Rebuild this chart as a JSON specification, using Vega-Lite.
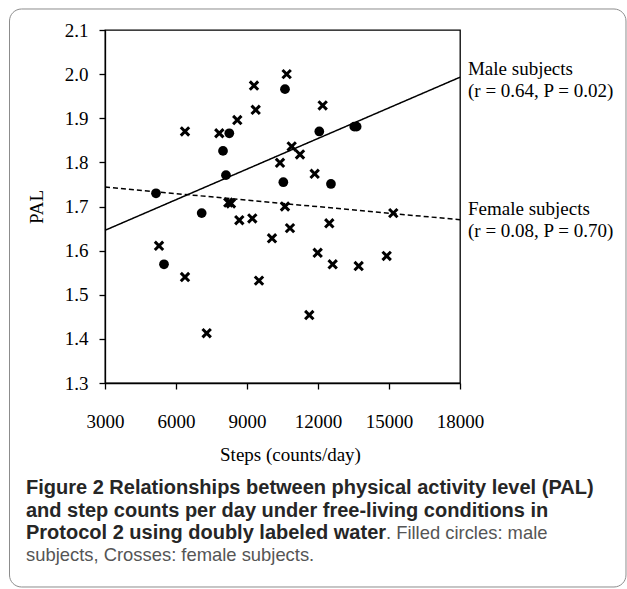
{
  "$schema": "https://vega.github.io/schema/vega-lite/v6.json",
  "width": 355,
  "height": 353,
  "autosize": {"type": "none"},
  "padding": {"left": 105, "top": 30, "right": 167, "bottom": 206},
  "background": "white",
  "config": {
    "view": {"stroke": "black", "strokeWidth": 1.3},
    "axis": {
      "domainColor": "black",
      "domainWidth": 1.3,
      "tickColor": "black",
      "tickWidth": 1.3,
      "tickSize": 6,
      "grid": false,
      "labelFont": "Liberation Serif",
      "labelFontSize": 19,
      "labelColor": "black",
      "labelFlush": false,
      "labelOverlap": false,
      "titleFont": "Liberation Serif",
      "titleFontSize": 19,
      "titleFontWeight": "normal",
      "titleColor": "black"
    }
  },
  "datasets": {
    "points": [
      {"steps": 10605, "pal": 1.966, "sex": "Male"},
      {"steps": 8252, "pal": 1.866, "sex": "Male"},
      {"steps": 7986, "pal": 1.826, "sex": "Male"},
      {"steps": 12055, "pal": 1.870, "sex": "Male"},
      {"steps": 13533, "pal": 1.881, "sex": "Male"},
      {"steps": 13633, "pal": 1.881, "sex": "Male"},
      {"steps": 8112, "pal": 1.771, "sex": "Male"},
      {"steps": 10535, "pal": 1.755, "sex": "Male"},
      {"steps": 12548, "pal": 1.751, "sex": "Male"},
      {"steps": 5155, "pal": 1.730, "sex": "Male"},
      {"steps": 7085, "pal": 1.685, "sex": "Male"},
      {"steps": 5493, "pal": 1.569, "sex": "Male"},
      {"steps": 6380, "pal": 1.870, "sex": "Female"},
      {"steps": 7830, "pal": 1.866, "sex": "Female"},
      {"steps": 8590, "pal": 1.896, "sex": "Female"},
      {"steps": 9295, "pal": 1.974, "sex": "Female"},
      {"steps": 9367, "pal": 1.919, "sex": "Female"},
      {"steps": 10676, "pal": 2.000, "sex": "Female"},
      {"steps": 12197, "pal": 1.929, "sex": "Female"},
      {"steps": 10888, "pal": 1.836, "sex": "Female"},
      {"steps": 11239, "pal": 1.818, "sex": "Female"},
      {"steps": 10394, "pal": 1.799, "sex": "Female"},
      {"steps": 11859, "pal": 1.774, "sex": "Female"},
      {"steps": 8210, "pal": 1.709, "sex": "Female"},
      {"steps": 8323, "pal": 1.707, "sex": "Female"},
      {"steps": 8675, "pal": 1.669, "sex": "Female"},
      {"steps": 9224, "pal": 1.673, "sex": "Female"},
      {"steps": 10605, "pal": 1.700, "sex": "Female"},
      {"steps": 10816, "pal": 1.651, "sex": "Female"},
      {"steps": 10056, "pal": 1.628, "sex": "Female"},
      {"steps": 12477, "pal": 1.662, "sex": "Female"},
      {"steps": 15181, "pal": 1.685, "sex": "Female"},
      {"steps": 5282, "pal": 1.611, "sex": "Female"},
      {"steps": 6380, "pal": 1.540, "sex": "Female"},
      {"steps": 9507, "pal": 1.532, "sex": "Female"},
      {"steps": 11986, "pal": 1.595, "sex": "Female"},
      {"steps": 12620, "pal": 1.569, "sex": "Female"},
      {"steps": 13718, "pal": 1.565, "sex": "Female"},
      {"steps": 14902, "pal": 1.588, "sex": "Female"},
      {"steps": 11632, "pal": 1.454, "sex": "Female"},
      {"steps": 7296, "pal": 1.413, "sex": "Female"}
    ],
    "fits": [
      {"steps": 3000, "pal": 1.646, "sex": "Male"},
      {"steps": 18000, "pal": 1.993, "sex": "Male"},
      {"steps": 3000, "pal": 1.744, "sex": "Female"},
      {"steps": 18000, "pal": 1.670, "sex": "Female"}
    ]
  },
  "layer": [
    {
      "data": {"values": [{}]},
      "mark": {"type": "rect", "filled": false, "stroke": "#8c8c8c", "strokeWidth": 1, "cornerRadius": 12},
      "encoding": {
        "x": {"datum": -1035, "type": "quantitative"},
        "x2": {"datum": 25014},
        "y": {"datum": 2.1476, "type": "quantitative"},
        "y2": {"datum": 0.8377}
      }
    },
    {
      "data": {"name": "fits"},
      "mark": {"type": "line", "color": "black", "strokeWidth": 1.5},
      "encoding": {
        "x": {"field": "steps", "type": "quantitative"},
        "y": {"field": "pal", "type": "quantitative"},
        "detail": {"field": "sex"},
        "strokeDash": {"field": "sex", "type": "nominal", "scale": {"domain": ["Male", "Female"], "range": [[1, 0], [5, 3]]}, "legend": null}
      }
    },
    {
      "data": {"name": "points"},
      "transform": [{"filter": "datum.sex === 'Male'"}],
      "mark": {"type": "point", "shape": "circle", "filled": true, "color": "black", "size": 95, "opacity": 1},
      "encoding": {
        "x": {"field": "steps", "type": "quantitative", "scale": {"domain": [3000, 18000], "nice": false, "zero": false},
          "axis": {"title": "Steps (counts/day)", "values": [3000, 4500, 6000, 7500, 9000, 10500, 12000, 13500, 15000, 16500, 18000], "format": "d", "labelExpr": "datum.value % 3000 === 0 ? datum.label : ''", "labelPadding": 23, "titlePadding": 14, "titleX": 185}},
        "y": {"field": "pal", "type": "quantitative", "scale": {"domain": [1.3, 2.1], "nice": false, "zero": false},
          "axis": {"title": "PAL", "values": [1.3, 1.4, 1.5, 1.6, 1.7, 1.8, 1.9, 2.0, 2.1], "format": ".1f", "labelPadding": 11, "titlePadding": 18}}
      }
    },
    {
      "data": {"name": "points"},
      "transform": [{"filter": "datum.sex === 'Female'"}],
      "mark": {"type": "point", "shape": "M-1,-1L1,1M-1,1L1,-1", "filled": false, "color": "black", "strokeWidth": 3, "size": 70, "opacity": 1},
      "encoding": {
        "x": {"field": "steps", "type": "quantitative"},
        "y": {"field": "pal", "type": "quantitative"}
      }
    },
    {
      "data": {"values": [{}]},
      "mark": {"type": "text", "align": "left", "baseline": "alphabetic", "font": "Liberation Serif", "fontSize": 19, "lineHeight": 22, "color": "black"},
      "encoding": {
        "x": {"datum": 18337, "type": "quantitative"},
        "y": {"datum": 1.998, "type": "quantitative"},
        "text": {"value": ["Male subjects", " (r = 0.64, P = 0.02)"]}
      }
    },
    {
      "data": {"values": [{}]},
      "mark": {"type": "text", "align": "left", "baseline": "alphabetic", "font": "Liberation Serif", "fontSize": 19, "lineHeight": 22, "color": "black"},
      "encoding": {
        "x": {"datum": 18337, "type": "quantitative"},
        "y": {"datum": 1.6807, "type": "quantitative"},
        "text": {"value": ["Female subjects", " (r = 0.08, P = 0.70)"]}
      }
    },
    {
      "data": {"values": [{}]},
      "mark": {"type": "text", "align": "left", "baseline": "alphabetic", "font": "Liberation Sans", "fontWeight": "bold", "fontSize": 20, "lineHeight": 22.5, "color": "#262626"},
      "encoding": {
        "x": {"datum": -338, "type": "quantitative"},
        "y": {"datum": 1.0484, "type": "quantitative"},
        "text": {"value": ["Figure 2 Relationships between physical activity level (PAL)", "and step counts per day under free-living conditions in", "Protocol 2 using doubly labeled water"]}
      }
    },
    {
      "data": {"values": [{}]},
      "mark": {"type": "text", "align": "left", "baseline": "alphabetic", "font": "Liberation Sans", "fontSize": 18.4, "color": "#555555"},
      "encoding": {
        "x": {"datum": 14873, "type": "quantitative"},
        "y": {"datum": 0.9465, "type": "quantitative"},
        "text": {"value": ". Filled circles: male"}
      }
    },
    {
      "data": {"values": [{}]},
      "mark": {"type": "text", "align": "left", "baseline": "alphabetic", "font": "Liberation Sans", "fontSize": 18.4, "color": "#555555"},
      "encoding": {
        "x": {"datum": -338, "type": "quantitative"},
        "y": {"datum": 0.8955, "type": "quantitative"},
        "text": {"value": "subjects, Crosses: female subjects."}
      }
    }
  ]
}
